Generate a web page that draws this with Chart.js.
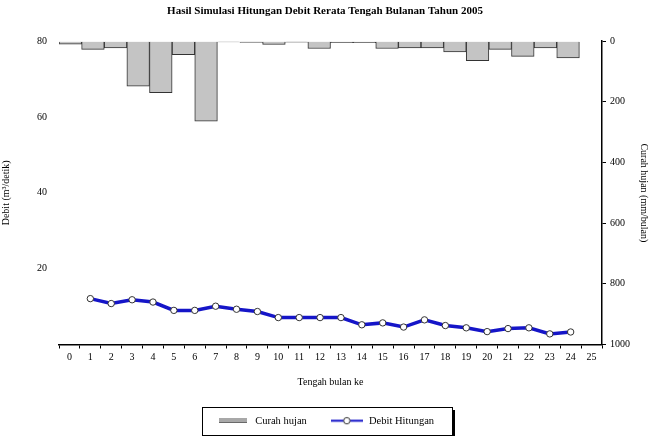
<!DOCTYPE html>
<html>
<head>
<meta charset="utf-8">
<script src="https://cdn.jsdelivr.net/npm/chart.js@4.4.1/dist/chart.umd.min.js"></script>
<style>
html, body { margin: 0; padding: 0; background: #fff; }
</style>
</head>
<body>
<canvas id="debitChart" width="650" height="436"></canvas>
<script>
// tengah bulan ke-
var tengahBulan = [1, 2, 3, 4, 5, 6, 7, 8, 9, 10, 11, 12, 13, 14, 15, 16, 17, 18, 19, 20, 21, 22, 23, 24];
// debit hitungan (m3/detik)
var debitHitungan = [12.1, 10.8, 11.8, 11.2, 9.0, 9.0, 10.1, 9.3, 8.7, 7.1, 7.1, 7.1,
                     7.1, 5.2, 5.7, 4.6, 6.5, 5.0, 4.4, 3.4, 4.2, 4.4, 2.8, 3.3];
// curah hujan (mm)
var curahHujan = [10, 27, 22, 148, 170, 44, 264, 2, 4, 11, 3, 24,
                  5, 5, 24, 22, 22, 35, 64, 27, 50, 22, 55, 0];

var xTicks = [0, 1, 2, 3, 4, 5, 6, 7, 8, 9, 10, 11, 12, 13, 14, 15, 16, 17, 18, 19, 20, 21, 22, 23, 24, 25];
var debitTicks = [0, 20, 40, 60, 80];
var hujanTicks = [0, 200, 400, 600, 800, 1000];

var serif = "'Liberation Serif', 'Times New Roman', serif";

// gambar kecil untuk legend
function swatchBar(){
	var c = document.createElement('canvas');
	c.width = 28; c.height = 5;
	var g = c.getContext('2d');
	g.fillStyle = '#a8a8a8';
	g.fillRect(0, 0, 28, 5);
	g.fillStyle = '#555';
	g.fillRect(0, 4, 28, 1);
	return c;
}
function swatchLine(){
	var c = document.createElement('canvas');
	c.width = 32; c.height = 9;
	var g = c.getContext('2d');
	g.strokeStyle = '#1515c8';
	g.lineWidth = 2;
	g.beginPath(); g.moveTo(0, 4.5); g.lineTo(32, 4.5); g.stroke();
	g.fillStyle = '#fff';
	g.strokeStyle = '#333';
	g.lineWidth = 1;
	g.beginPath(); g.arc(16, 4.5, 3.2, 0, Math.PI*2); g.fill(); g.stroke();
	return c;
}
var legendImgs = [swatchBar(), swatchLine()];

// kotak legend
var legendBox = {
	id: 'legendBox',
	afterDraw: function(chart){
		var lg = chart.legend;
		if(!lg || !lg.legendHitBoxes || !lg.legendHitBoxes.length) return;
		var hb = lg.legendHitBoxes;
		var last = hb[hb.length-1];
		var l = hb[0].left - 14, r = last.left + last.width + 18;
		var t = hb[0].top - 9, b = hb[0].top + hb[0].height + 8;
		var ctx = chart.ctx;
		ctx.save();
		ctx.strokeStyle = '#000';
		ctx.lineWidth = 1;
		ctx.strokeRect(Math.round(l)+0.5, Math.round(t)+0.5, Math.round(r-l), Math.round(b-t));
		ctx.fillStyle = '#000';
		ctx.fillRect(Math.round(r)+1, Math.round(t)+3, 2, Math.round(b-t));
		ctx.fillRect(Math.round(l)+3, Math.round(b)+1, Math.round(r-l), 2);
		ctx.restore();
	}
};

var lineData = [];
for(var i=0; i<tengahBulan.length; i++){
	lineData.push({x: tengahBulan[i], y: debitHitungan[i]});
}

var ctx = document.getElementById('debitChart').getContext('2d');
new Chart(ctx, {
	type: 'bar',
	data: {
		labels: tengahBulan,
		datasets: [{
			type: 'bar',
			label: 'Curah hujan',
			data: curahHujan,
			xAxisID: 'xb',
			yAxisID: 'y2',
			backgroundColor: '#c4c4c4',
			borderColor: '#333',
			borderWidth: 1,
			borderSkipped: 'start',
			grouped: false,
			barPercentage: 1,
			categoryPercentage: 1,
			order: 2
		},{
			type: 'line',
			label: 'Debit Hitungan',
			data: lineData,
			xAxisID: 'x',
			yAxisID: 'y',
			borderColor: '#1515c8',
			borderWidth: 3.5,
			pointRadius: 3.2,
			pointBackgroundColor: '#fff',
			pointBorderColor: '#333',
			pointBorderWidth: 1,
			tension: 0,
			order: 1
		}]
	},
	options: {
		responsive: false,
		animation: false,
		devicePixelRatio: 1,
		layout: { padding: { left: 0, right: 0, top: 0, bottom: 0 } },
		plugins: {
			title: {
				display: true,
				text: 'Hasil Simulasi Hitungan Debit Rerata Tengah Bulanan Tahun 2005',
				color: '#000',
				font: { family: serif, size: 11, weight: 'bold' },
				padding: { top: 5, bottom: 23 }
			},
			legend: {
				position: 'bottom',
				labels: {
					usePointStyle: true,
					pointStyleWidth: 34,
					color: '#000',
					font: { family: serif, size: 10.5 },
					padding: 23,
					generateLabels: function(chart){
						return chart.data.datasets.map(function(ds, i){
							return { text: ds.label, pointStyle: legendImgs[i], datasetIndex: i,
								fillStyle: '#fff', strokeStyle: '#fff', lineWidth: 0, fontColor: '#000' };
						});
					}
				}
			},
			tooltip: { enabled: false }
		},
		scales: {
			x: {
				type: 'linear',
				position: 'bottom',
				min: 0, max: 25,
				afterBuildTicks: function(s){ s.ticks = xTicks.map(function(v){ return {value: v}; }); },
				afterFit: function(s){ s.height = 48; },
				ticks: { color: '#000', font: { family: serif, size: 10 }, padding: 3, maxRotation: 0, autoSkip: false },
				grid: { display: true, drawOnChartArea: false, drawTicks: true, tickLength: 4, color: '#000' },
				border: { display: true, color: '#000', width: 1.5 },
				title: { display: true, text: 'Tengah bulan ke', color: '#000', font: { family: serif, size: 10 }, padding: { top: 6 } }
			},
			xb: {
				type: 'category',
				display: false,
				offset: true,
				grid: { display: false }
			},
			y: {
				position: 'left',
				min: 0, max: 80,
				afterBuildTicks: function(s){ s.ticks = debitTicks.map(function(v){ return {value: v}; }); },
				afterFit: function(s){ s.width = 59; },
				ticks: {
					color: '#000', font: { family: serif, size: 10 }, padding: 4,
					callback: function(v){ return v === 0 ? '' : String(v); }
				},
				grid: { display: false },
				border: { display: false },
				title: { display: true, text: 'Debit (m³/detik)', color: '#000', font: { family: serif, size: 10 }, padding: 0 }
			},
			y2: {
				position: 'right',
				reverse: true,
				min: 0, max: 1000,
				afterBuildTicks: function(s){ s.ticks = hujanTicks.map(function(v){ return {value: v}; }); },
				afterFit: function(s){ s.width = 48; },
				ticks: {
					color: '#000', font: { family: serif, size: 10 }, padding: 4,
					callback: function(v){ return String(v); }
				},
				grid: { display: true, drawOnChartArea: false, drawTicks: true, tickLength: 4, color: '#000' },
				border: { display: true, color: '#000', width: 1.5 },
				title: { display: true, text: 'Curah hujan (mm/bulan)', color: '#000', font: { family: serif, size: 10 }, padding: 0 }
			}
		}
	},
	plugins: [legendBox]
});
</script>
</body>
</html>
